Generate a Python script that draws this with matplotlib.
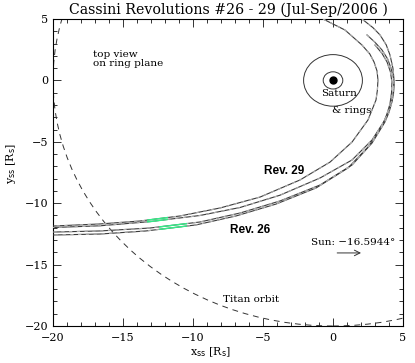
import matplotlib
matplotlib.use("Agg")
import matplotlib.pyplot as plt
from matplotlib.patches import Circle, Rectangle

# ---------------- data (units of Saturn radii) ----------------
title = "Cassini Revolutions #26 - 29 (Jul-Sep/2006 )"

# Rev 29 (inner track)
rev29_x = [-0.71, 0.86, 2.07, 2.63, 2.93, 3.15, 3.21, 3.17, 3.07, 2.50, 1.36, -0.21, -2.36, -5.21, -8.07, -10.93, -13.79, -16.64, -20.0]
rev29_y = [5.0, 4.10, 2.88, 2.15, 1.50, 0.75, 0.03, -0.80, -1.60, -3.22, -5.02, -6.65, -8.11, -9.50, -10.39, -11.04, -11.45, -11.69, -11.86]
# Rev 28
rev28_x = [2.07, 2.85, 3.36, 3.80, 4.07, 4.28, 4.36, 4.32, 4.21, 4.00, 3.71, 2.79, 1.36, -0.93, -3.79, -6.64, -9.50, -13.07, -16.64, -20.0]
rev28_y = [5.0, 4.30, 3.70, 2.90, 2.07, 1.00, 0.03, -0.80, -1.60, -2.40, -3.22, -4.85, -6.48, -7.95, -9.35, -10.35, -11.0, -11.50, -11.84, -11.98]
# Rev 27
rev27_x = [2.43, 3.00, 3.50, 3.90, 4.14, 4.30, 4.36, 4.32, 4.21, 4.00, 3.71, 2.79, 1.36, -0.93, -3.79, -6.64, -9.50, -13.07, -16.64, -20.0]
rev27_y = [3.70, 3.10, 2.48, 1.75, 1.01, 0.30, -0.37, -1.10, -1.76, -2.60, -3.39, -5.10, -6.89, -8.52, -9.82, -10.80, -11.53, -12.02, -12.26, -12.35]
# Rev 26
rev26_x = [3.00, 3.50, 3.86, 4.10, 4.21, 4.18, 4.07, 3.85, 3.57, 2.57, 1.07, -1.21, -4.07, -6.93, -9.79, -13.36, -16.64, -20.0]
rev26_y = [2.88, 2.20, 1.50, 0.70, -0.13, -1.00, -1.92, -2.75, -3.55, -5.34, -7.13, -8.76, -10.07, -11.04, -11.77, -12.26, -12.51, -12.59]

revs_x = [rev29_x, rev28_x, rev27_x, rev26_x]
revs_y = [rev29_y, rev28_y, rev27_y, rev26_y]
# x-range of the green (highlighted) portion of each track
green_ranges = [(-13.3, -11.8), (-13.3, -11.8), (-12.4, -10.4), (-12.4, -10.4)]

saturn_radius = 0.7
ring_radius = 2.1
titan_radius = 20.0
sun_angle_text = "Sun: \u221216.5944\u00b0"

# ---------------- figure ----------------
W, H = 415, 363
fig = plt.figure(figsize=(W / 100, H / 100), dpi=100)
ax = fig.add_axes([53 / W, 1 - 326 / H, 350 / W, 307 / H])
serif = "DejaVu Serif"

for xs, ys, (g0, g1) in zip(revs_x, revs_y, green_ranges):
    ax.plot(xs, ys, color="#3a3a3a", lw=0.8, zorder=3)
    ax.plot(xs, ys, color="#b0b0b0", lw=0.8, ls=(0, (3, 4)), zorder=4)
    gl, = ax.plot(xs, ys, color="#33ee88", lw=1.0, zorder=5)
    clip = Rectangle((g0, -30), g1 - g0, 60, transform=ax.transData)
    gl.set_clip_path(clip)

# Titan orbit
ax.add_patch(Circle((0, 0), titan_radius, fill=False, ec="#333333", lw=0.7,
                    ls=(0, (6, 5)), zorder=2))
# Saturn and rings
ax.add_patch(Circle((0, 0), saturn_radius, fill=False, ec="#333333", lw=0.7, zorder=2))
ax.add_patch(Circle((0, 0), ring_radius, fill=False, ec="#333333", lw=0.7, zorder=2))
ax.plot([0], [0], "o", color="black", ms=5, zorder=6)

ax.text(0.43, -1.03, "Saturn", family=serif, fontsize=7.5, ha="center", va="center")
ax.text(1.36, -2.49, "& rings", family=serif, fontsize=7.5, ha="center", va="center")
ax.text(-17.14, 1.75, "top view\non ring plane", family=serif, fontsize=7.5,
        ha="left", va="center", linespacing=0.95)
ax.text(-3.5, -7.38, "Rev. 29", family="Liberation Sans", fontsize=8.5,
        fontweight="bold", ha="center", va="center")
ax.text(-5.9, -12.15, "Rev. 26", family="Liberation Sans", fontsize=8.5,
        fontweight="bold", ha="center", va="center")
ax.text(1.43, -13.2, sun_angle_text, family=serif, fontsize=7.5, ha="center", va="center")
ax.annotate("", xy=(2.2, -14.05), xytext=(0.1, -14.05),
            arrowprops=dict(arrowstyle="->", color="#333333", lw=0.7))
ax.text(-5.86, -17.84, "Titan orbit", family=serif, fontsize=7.5, ha="center", va="center")

ax.set_xlim(-20, 5)
ax.set_ylim(-20, 5)
ax.set_xticks([-20, -15, -10, -5, 0, 5])
ax.set_yticks([-20, -15, -10, -5, 0, 5])
ax.set_xticks(range(-20, 6), minor=True)
ax.set_yticks(range(-20, 6), minor=True)
ax.set_xticklabels(["\u221220", "\u221215", "\u221210", "\u22125", "0", "5"], family=serif)
ax.set_yticklabels(["\u221220", "\u221215", "\u221210", "\u22125", "0", "5"], family=serif)
ax.tick_params(which="both", direction="in", top=True, right=True, labelsize=8,
               width=0.7, color="#333333")
ax.tick_params(which="major", length=6)
ax.tick_params(which="minor", length=3)
ax.tick_params(axis="x", pad=5)
for s in ax.spines.values():
    s.set_linewidth(0.8)

ax.set_xlabel(r"x$_{\rm ss}$ [R$_{\rm s}$]", family=serif, fontsize=8)
ax.set_ylabel(r"y$_{\rm ss}$ [R$_{\rm s}$]", family=serif, fontsize=8)
ax.xaxis.set_label_coords(0.45, -0.063)
ax.yaxis.set_label_coords(-0.1, 0.53)
fig.text(228 / W, 1 - 10 / H, title, family=serif, fontsize=10.2, ha="center", va="center")

fig.savefig("out.png", dpi=100)
